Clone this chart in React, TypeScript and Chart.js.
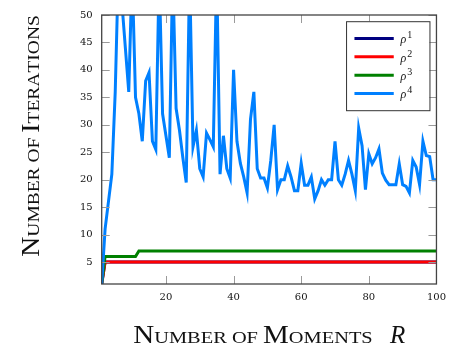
import React, { useEffect, useRef } from 'react';
import { Chart, registerables } from 'chart.js';

Chart.register(...registerables);

// ---- data ----
const moments = [
  1, 2, 3, 4, 5, 6, 7, 8, 9, 10,
  11, 12, 13, 14, 15, 16, 17, 18, 19, 20,
  21, 22, 23, 24, 25, 26, 27, 28, 29, 30,
  31, 32, 33, 34, 35, 36, 37, 38, 39, 40,
  41, 42, 43, 44, 45, 46, 47, 48, 49, 50,
  51, 52, 53, 54, 55, 56, 57, 58, 59, 60,
  61, 62, 63, 64, 65, 66, 67, 68, 69, 70,
  71, 72, 73, 74, 75, 76, 77, 78, 79, 80,
  81, 82, 83, 84, 85, 86, 87, 88, 89, 90,
  91, 92, 93, 94, 95, 96, 97, 98, 99, 100,
];

const rho1 = [
  1, 5, 5, 5, 5, 5, 5, 5, 5, 5,
  5, 5, 5, 5, 5, 5, 5, 5, 5, 5,
  5, 5, 5, 5, 5, 5, 5, 5, 5, 5,
  5, 5, 5, 5, 5, 5, 5, 5, 5, 5,
  5, 5, 5, 5, 5, 5, 5, 5, 5, 5,
  5, 5, 5, 5, 5, 5, 5, 5, 5, 5,
  5, 5, 5, 5, 5, 5, 5, 5, 5, 5,
  5, 5, 5, 5, 5, 5, 5, 5, 5, 5,
  5, 5, 5, 5, 5, 5, 5, 5, 5, 5,
  5, 5, 5, 5, 5, 5, 5, 5, 5, 5,
];

const rho2 = [
  1, 5, 5, 5, 5, 5, 5, 5, 5, 5,
  5, 5, 5, 5, 5, 5, 5, 5, 5, 5,
  5, 5, 5, 5, 5, 5, 5, 5, 5, 5,
  5, 5, 5, 5, 5, 5, 5, 5, 5, 5,
  5, 5, 5, 5, 5, 5, 5, 5, 5, 5,
  5, 5, 5, 5, 5, 5, 5, 5, 5, 5,
  5, 5, 5, 5, 5, 5, 5, 5, 5, 5,
  5, 5, 5, 5, 5, 5, 5, 5, 5, 5,
  5, 5, 5, 5, 5, 5, 5, 5, 5, 5,
  5, 5, 5, 5, 5, 5, 5, 5, 5, 5,
];

const rho3 = [
  1, 6, 6, 6, 6, 6, 6, 6, 6, 6,
  6, 7, 7, 7, 7, 7, 7, 7, 7, 7,
  7, 7, 7, 7, 7, 7, 7, 7, 7, 7,
  7, 7, 7, 7, 7, 7, 7, 7, 7, 7,
  7, 7, 7, 7, 7, 7, 7, 7, 7, 7,
  7, 7, 7, 7, 7, 7, 7, 7, 7, 7,
  7, 7, 7, 7, 7, 7, 7, 7, 7, 7,
  7, 7, 7, 7, 7, 7, 7, 7, 7, 7,
  7, 7, 7, 7, 7, 7, 7, 7, 7, 7,
  7, 7, 7, 7, 7, 7, 7, 7, 7, 7,
];

const rho4 = [
  1, 11, 16, 21, 36, 60, 52, 44, 36, 58,
  35, 32, 27, 38, 39.5, 27, 25.5, 58, 32, 28,
  24, 58, 33, 29, 24, 19.5, 58, 26, 29, 22,
  20.5, 28.5, 27.3, 26, 58, 21, 28, 22, 20.3, 40,
  27, 23, 20.5, 17.6, 31, 36, 22, 20.3, 20.3, 18.5,
  23.5, 30, 18.2, 20, 20, 22.5, 20.5, 18, 18, 23,
  19, 19, 20.5, 16.5, 18, 20, 19, 20, 20, 27,
  20, 19, 21, 23.5, 21, 18, 29.4, 26.2, 18.2, 24.7,
  22.9, 24, 25.6, 21.2, 19.9, 19.1, 19.1, 19.1, 22.9, 19.1,
  18.8, 17.6, 23.5, 22.3, 19.1, 27, 24.4, 24.2, 20, 20,
];

const xTicks = [20, 40, 60, 80, 100];
const yTicks = [5, 10, 15, 20, 25, 30, 35, 40, 45, 50];

const seriesNames = ['1', '2', '3', '4'];
const seriesColors = ['#000080', '#ff0000', '#008000', '#0080ff'];

const xTitle = 'Number of Moments';
const xTitleVar = 'R';
const yTitle = 'Number of Iterations';

// ---- drawing helpers ----
type Run = { s: string; size: number };

function scRuns(text: string, big: number, small: number): Run[] {
  const runs: Run[] = [];
  for (const ch of text) {
    const lower = ch !== ch.toUpperCase();
    const space = ch === ' ';
    runs.push({ s: lower ? ch.toUpperCase() : ch, size: lower || space ? small : big });
  }
  return runs;
}

function drawSmallCaps(
  ctx: CanvasRenderingContext2D,
  text: string,
  big: number,
  small: number,
  family: string,
  startX: number,
  length: number
) {
  const runs = scRuns(text, big, small);
  let total = 0;
  const widths: number[] = [];
  for (const r of runs) {
    ctx.font = `${r.size}px "${family}"`;
    const w = ctx.measureText(r.s).width;
    widths.push(w);
    total += w;
  }
  const sx = length / total;
  ctx.save();
  ctx.translate(startX, 0);
  ctx.scale(sx, 1);
  let x = 0;
  ctx.textBaseline = 'alphabetic';
  ctx.textAlign = 'left';
  runs.forEach((r, i) => {
    ctx.font = `${r.size}px "${family}"`;
    ctx.fillText(r.s, x, 0);
    x += widths[i];
  });
  ctx.restore();
}

const decor = {
  id: 'decor',
  afterDatasetsDraw(chart: any) {
    const { ctx, chartArea: a, scales } = chart;
    ctx.save();
    // inward tick marks
    const TL = 8;
    ctx.strokeStyle = '#9a9a9a';
    ctx.lineWidth = 1;
    ctx.beginPath();
    for (const v of xTicks) {
      const px = Math.round(scales.x.getPixelForValue(v)) + 0.5;
      ctx.moveTo(px, a.bottom);
      ctx.lineTo(px, a.bottom - TL);
      ctx.moveTo(px, a.top);
      ctx.lineTo(px, a.top + TL);
    }
    for (const v of yTicks) {
      const py = Math.round(scales.y.getPixelForValue(v)) + 0.5;
      ctx.moveTo(a.left, py);
      ctx.lineTo(a.left + TL, py);
      ctx.moveTo(a.right, py);
      ctx.lineTo(a.right - TL, py);
    }
    ctx.stroke();
    // frame
    ctx.strokeStyle = '#444';
    ctx.lineWidth = 1.3;
    ctx.strokeRect(a.left, a.top, a.right - a.left, a.bottom - a.top);

    // legend
    const bx = a.right - 90.4;
    const by = a.top + 6.2;
    const bw = 83.4;
    const bh = 89;
    ctx.fillStyle = '#fff';
    ctx.fillRect(bx, by, bw, bh);
    ctx.strokeStyle = '#333';
    ctx.lineWidth = 1;
    ctx.strokeRect(bx + 0.5, by + 0.5, bw, bh);
    seriesNames.forEach((name, i) => {
      const ly = by + 17.3 + i * 18.35;
      ctx.strokeStyle = seriesColors[i];
      ctx.lineWidth = 3;
      ctx.beginPath();
      ctx.moveTo(bx + 8.4, ly);
      ctx.lineTo(bx + 47.7, ly);
      ctx.stroke();
      ctx.fillStyle = '#111';
      ctx.textAlign = 'left';
      ctx.textBaseline = 'alphabetic';
      ctx.font = 'italic 12px "Liberation Serif"';
      ctx.fillText('ρ', bx + 54.5, ly + 4.8);
      const rw = ctx.measureText('ρ').width;
      ctx.font = '10px "Liberation Serif"';
      ctx.fillText(name, bx + 55.5 + rw, ly - 0.3);
    });

    // axis titles
    ctx.fillStyle = '#111';
    ctx.save();
    ctx.translate(0, 343.3);
    drawSmallCaps(ctx, xTitle, 25, 17.6, 'Liberation Serif', 133.3, 239.4);
    ctx.restore();
    ctx.save();
    ctx.font = 'italic 25px "Liberation Serif"';
    ctx.textAlign = 'left';
    ctx.textBaseline = 'alphabetic';
    ctx.fillText(xTitleVar, 390, 343.3);
    ctx.restore();

    ctx.save();
    ctx.translate(38.5, 0);
    ctx.rotate(-Math.PI / 2);
    // local x axis runs upward on screen: start at screen y=256.7 => local x=-256.7
    drawSmallCaps(ctx, yTitle, 25, 17.6, 'Liberation Serif', -256.7, 241.5);
    ctx.restore();

    ctx.restore();
  },
};

export default function App() {
  const ref = useRef<HTMLCanvasElement | null>(null);

  useEffect(() => {
    if (!ref.current) return;
    const series = [rho1, rho2, rho3, rho4];
    const chart = new Chart(ref.current, {
      type: 'line',
      data: {
        datasets: series.map((vals, i) => ({
          label: 'ρ' + seriesNames[i],
          data: vals.map((v, j) => ({ x: moments[j], y: v })),
          borderColor: seriesColors[i],
          backgroundColor: seriesColors[i],
          borderWidth: 3,
          pointRadius: 0,
          fill: false,
          tension: 0,
          clip: 0,
          order: 4 - i,
        })),
      },
      options: {
        animation: false,
        responsive: false,
        devicePixelRatio: 1,
        events: [],
        layout: { padding: { left: 0, right: 14.3, top: 6.5, bottom: 0 } },
        plugins: {
          legend: { display: false },
          tooltip: { enabled: false },
          title: { display: false },
        },
        scales: {
          x: {
            type: 'linear',
            min: 1,
            max: 100,
            grid: { display: false, drawTicks: false },
            border: { display: false },
            afterBuildTicks: (s: any) => {
              s.ticks = xTicks.map((v) => ({ value: v }));
            },
            afterFit: (s: any) => {
              s.height = 63;
            },
            ticks: {
              padding: 7,
              color: '#111',
              autoSkip: false,
              maxRotation: 0,
              font: { family: 'DejaVu Serif', size: 10 },
            },
          },
          y: {
            type: 'linear',
            min: 1,
            max: 50,
            grid: { display: false, drawTicks: false },
            border: { display: false },
            afterBuildTicks: (s: any) => {
              s.ticks = yTicks.map((v) => ({ value: v }));
            },
            afterFit: (s: any) => {
              s.width = 101.7;
            },
            ticks: {
              padding: 9,
              color: '#111',
              autoSkip: false,
              font: { family: 'DejaVu Serif', size: 10 },
            },
          },
        },
      },
      plugins: [decor],
    });
    return () => chart.destroy();
  }, []);

  return (
    <div style={{ position: 'absolute', left: 0, top: 0, width: 453, height: 347, background: '#fff' }}>
      <canvas ref={ref} width={453} height={347} style={{ display: 'block' }} />
    </div>
  );
}
